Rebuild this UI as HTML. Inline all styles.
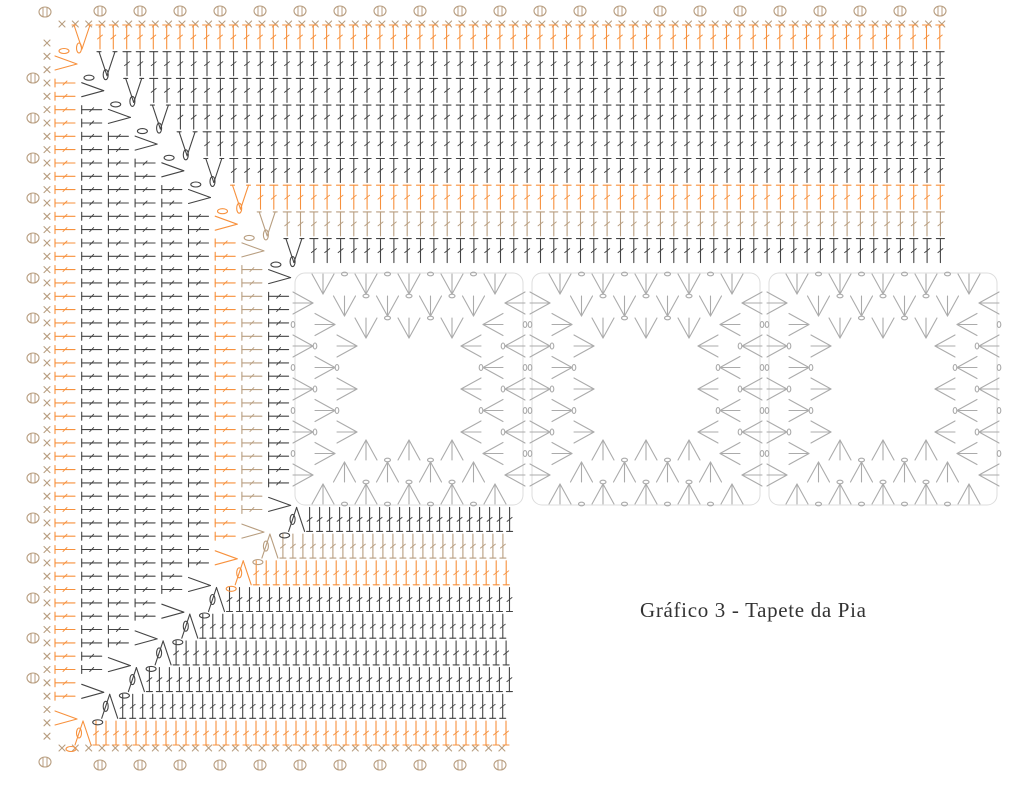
<!DOCTYPE html>
<html><head><meta charset="utf-8"><style>
html,body{margin:0;padding:0;background:#fff;}
svg{display:block}
</style></head><body>
<svg id="s" width="1024" height="788" viewBox="0 0 1024 788" xmlns="http://www.w3.org/2000/svg">
<g id="g" fill="none" stroke-linecap="round" stroke-width="1.1"></g>
<text x="640" y="617" font-family="'Liberation Serif', serif" font-size="21" fill="#333" textLength="226">Gráfico 3 - Tapete da Pia</text>
</svg>
<script>
var out=[];
var OR='#f7913d',DK='#444',TN='#b89e80',GR='#ababab';
function L(x1,y1,x2,y2,c,w){out.push('<line x1="'+x1.toFixed(1)+'" y1="'+y1.toFixed(1)+'" x2="'+x2.toFixed(1)+'" y2="'+y2.toFixed(1)+'" stroke="'+c+'"'+(w?' stroke-width="'+w+'"':'')+'/>');}
function E(x,y,rx,ry,c){out.push('<ellipse cx="'+x.toFixed(1)+'" cy="'+y.toFixed(1)+'" rx="'+rx+'" ry="'+ry+'" stroke="'+c+'" stroke-width="1.1"/>');}
function X(x,y,c){L(x-3,y-3,x+3,y+3,c,1.1);L(x-3,y+3,x+3,y-3,c,1.1);}
function SH(x,y){E(x,y,6,5,TN);L(x-2,y-4,x-2,y+4,TN,1);L(x+2,y-4,x+2,y+4,TN,1);}
function vT(x,y,c,down){var h=12;L(x,y-h,x,y+h,c);if(down)L(x-3,y+h,x+3,y+h,c);else L(x-4,y-h,x+4,y-h,c);L(x-2.5,y+2,x+2.5,y-2,c,0.9);}
function hT(x,y,c){L(x,y,x+20,y,c);L(x,y-4,x,y+4,c);L(x+8,y+2,x+12,y-2,c,0.9);}
var rowC=[OR,DK,DK,DK,DK,DK,OR,TN,DK];
for(var x=62;x<=948;x+=13.33)X(x,24,TN);
for(var x=100;x<=945;x+=40)SH(x,11);
for(var y=43;y<=747;y+=13.33)X(47,y,TN);
for(var y=78;y<=705;y+=40)SH(33,y);
SH(45,12);SH(45,762);
for(var x=62;x<=512;x+=13.33)X(x,748,TN);
for(var x=100;x<=505;x+=40)SH(x,765);
for(var r=0;r<9;r++){var y=37+26.7*r,c=rowC[r];
 var vx=r==0?82:80.3+26.7*r;
 L(vx-8,y-12,vx,y+12,c);L(vx+8,y-12,vx,y+12,c);L(vx-10,y-12,vx-6,y-12,c);L(vx+6,y-12,vx+10,y-12,c);
 E(vx-18,y+14,5,2.5,c);
 var xs=r==0?100:vx+20;
 for(var x=xs;x<=948;x+=13.33)vT(x,y,c,false);
}
for(var c=0;c<9;c++){var col=rowC[c],x0=55+26.7*c;
 var ys=62+26.7*c,ye=717-26.7*c;
 L(x0,ys-6,x0+22,ys+2,col);L(x0,ys+8,x0+22,ys+2,col);
 L(x0,ye-6,x0+22,ye+2,col);L(x0,ye+8,x0+22,ye+2,col);
 E(x0+24,ys-14,2.5,5,col);E(x0+24,ye+16,2.5,5,col);
 for(var y=43+13.33*Math.ceil((ys+10-43)/13.33);y<=ye-10;y+=13.33)hT(x0,y,col);
}
for(var b=0;b<9;b++){var y=733-26.7*b,c=rowC[b];
 var ax=83+26.7*b;
 L(ax-8,y+12,ax,y-12,c);L(ax+8,y+12,ax,y-12,c);
 E(ax-12,y+16,5,2.5,c);
 for(var x=ax+13;x<=510;x+=10)vT(x,y,c,true);
}
function fan(cx,cy,dir){
 for(var k=-1;k<=1;k++){
  var ax,ay,bx,by;
  if(dir=='d'){ax=cx;ay=cy+10;bx=cx+k*11;by=cy-10;}
  if(dir=='u'){ax=cx;ay=cy-10;bx=cx+k*11;by=cy+10;}
  if(dir=='r'){ax=cx+10;ay=cy;bx=cx-10;by=cy+k*11;}
  if(dir=='l'){ax=cx-10;ay=cy;bx=cx+10;by=cy+k*11;}
  L(ax,ay,bx,by,GR,1.1);
 }
}
for(var i=0;i<3;i++){var x0=292+237*i,y0=273,w=234,h=232;
 out.push('<rect x="'+(x0+3)+'" y="'+y0+'" width="'+(w-6)+'" height="'+h+'" rx="10" stroke="#ddd" stroke-width="1"/>');
 var cx=x0+w/2,cy=y0+h/2;
 for(var k=0;k<3;k++){var n=5-k,d=11+22*k;
  for(var j=0;j<n;j++){var off=(j-(n-1)/2)*43;
   fan(cx+off,y0+d,'d');fan(cx+off,y0+h-d,'u');
   fan(x0+d,cy+off,'r');fan(x0+w-d,cy+off,'l');
   if(j<n-1){E(cx+off+21.5,y0+d-10,3,1.8,GR);E(cx+off+21.5,y0+h-d+10,3,1.8,GR);
    E(x0+d-10,cy+off+21.5,1.8,3,GR);E(x0+w-d+10,cy+off+21.5,1.8,3,GR);}
  }
 }
}
document.getElementById('g').innerHTML=out.join('');
</script>
</body></html>
